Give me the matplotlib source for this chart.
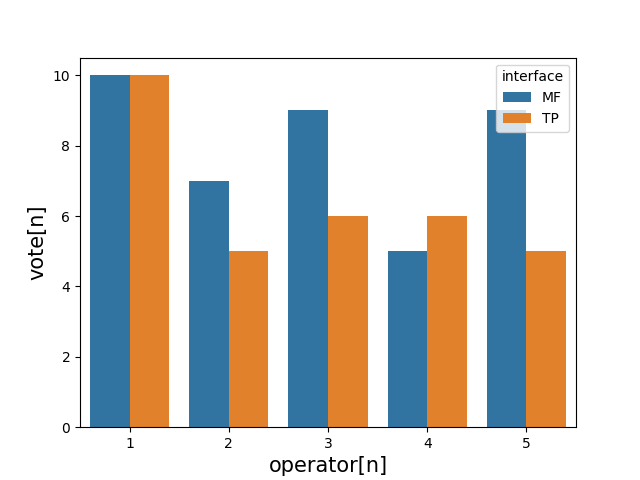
import matplotlib
matplotlib.use("Agg")
import matplotlib.pyplot as plt
import pandas as pd
import seaborn as sns

operators = [1, 2, 3, 4, 5]
mf_votes = [10, 7, 9, 5, 9]
tp_votes = [10, 5, 6, 6, 5]

df = pd.DataFrame({
    "operator": operators * 2,
    "vote": mf_votes + tp_votes,
    "interface": ["MF"] * len(operators) + ["TP"] * len(operators),
})

fig, ax = plt.subplots(figsize=(6.4, 4.8), dpi=100)
sns.barplot(data=df, x="operator", y="vote", hue="interface", ax=ax)
ax.set_xlabel("operator[n]", fontsize=15)
ax.set_ylabel("vote[n]", fontsize=15)

fig.savefig("out.png", dpi=100)
